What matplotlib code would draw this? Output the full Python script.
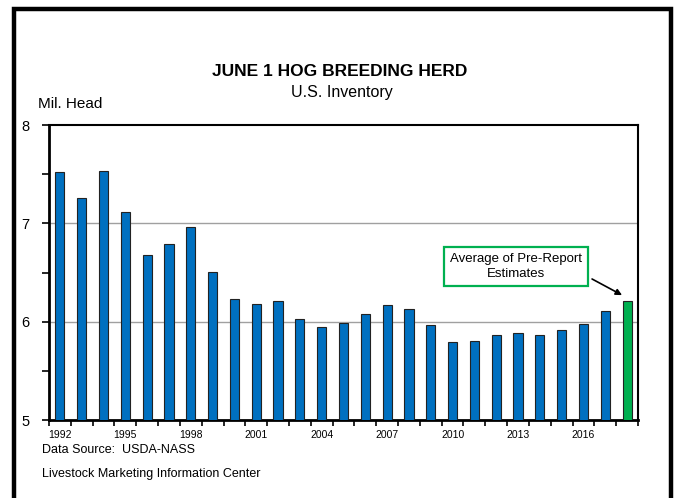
import numpy as np
import matplotlib
matplotlib.use("Agg")
import matplotlib.pyplot as plt
from matplotlib.patches import Rectangle

plt.rcParams["font.family"] = ["Liberation Sans Narrow", "Liberation Sans", "DejaVu Sans"]

# data (million head, June 1 breeding herd)
years = list(range(1992, 2019))
herd = [7.52, 7.26, 7.53, 7.12, 6.68, 6.79, 6.96, 6.51, 6.23,
        6.18, 6.21, 6.03, 5.95, 5.99, 6.08, 6.17, 6.13, 5.97,
        5.79, 5.80, 5.86, 5.88, 5.86, 5.92, 5.98, 6.11, 6.21]
year_labels = [str(y) if (y - 1992) % 3 == 0 else "" for y in years]
estimate_year = 2018

fig = plt.figure(figsize=(6.76, 4.98), dpi=100)
ax = fig.add_axes([49 / 676, 78 / 498, 589 / 676, 295 / 498])

x = np.arange(len(years))
colors = ["#00b050" if y == estimate_year else "#0070c0" for y in years]
ax.bar(x, herd, width=0.42, color=colors, edgecolor="#222222", linewidth=0.8, zorder=3)

ax.set_xlim(-0.5, len(years) - 0.5)
ax.set_ylim(5, 8)

# y axis
ax.set_yticks([5, 6, 7, 8])
ax.set_yticklabels(["5", "6", "7", "8"], fontsize=10.5)
ax.set_yticks([5.5, 6.5, 7.5], minor=True)
ax.tick_params(axis="y", which="both", direction="out", length=5, width=1.2, pad=9)
for v in [6, 7]:
    ax.axhline(v, color="#a0a0a0", lw=1.0, zorder=1)

# x axis: ticks on category boundaries, labels under bars
ax.set_xticks(np.arange(len(years) + 1) - 0.5)
ax.set_xticklabels([])
ax.set_xticks(x, minor=True)
ax.set_xticklabels(year_labels, minor=True, fontsize=7.5)
ax.tick_params(axis="x", which="major", direction="out", length=4, width=1.2)
ax.tick_params(axis="x", which="minor", length=0, pad=7)

for s in ["left", "bottom"]:
    ax.spines[s].set_linewidth(2)
for s in ["top", "right"]:
    ax.spines[s].set_linewidth(1.5)

ax.text(0.793, 0.52, "Average of Pre-Report\nEstimates", transform=ax.transAxes,
        ha="center", va="center", fontsize=9.5, linespacing=1.3,
        bbox=dict(boxstyle="square,pad=0.45", fc="white", ec="#00b050", lw=1.6), zorder=5)
ax.annotate("", xy=(x[-1] - 0.23, herd[-1] + 0.06), xycoords="data",
            xytext=(0.922, 0.478), textcoords="axes fraction",
            arrowprops=dict(arrowstyle="-|>", color="black", lw=1.2,
                            shrinkA=0, shrinkB=0, mutation_scale=9),
            zorder=5)

fig.text(340 / 676, 1 - 72 / 498, "JUNE 1 HOG BREEDING HERD", ha="center", va="center",
         fontsize=12.5, fontweight="bold")
fig.text(342 / 676, 1 - 92 / 498, "U.S. Inventory", ha="center", va="center", fontsize=11.5)
fig.text(38 / 676, 1 - 104 / 498, "Mil. Head", ha="left", va="center", fontsize=11)
fig.text(42 / 676, 1 - 450 / 498, "Data Source:  USDA-NASS", ha="left", va="center", fontsize=9)
fig.text(42 / 676, 1 - 474 / 498, "Livestock Marketing Information Center", ha="left",
         va="center", fontsize=9)

# outer frame
fig.patches.append(Rectangle((13.8 / 676, -0.05), (670.8 - 13.8) / 676, 1.05 - 8.8 / 498,
                             transform=fig.transFigure, fill=False, ec="black", lw=3.2))

fig.savefig("out.png", dpi=100)
